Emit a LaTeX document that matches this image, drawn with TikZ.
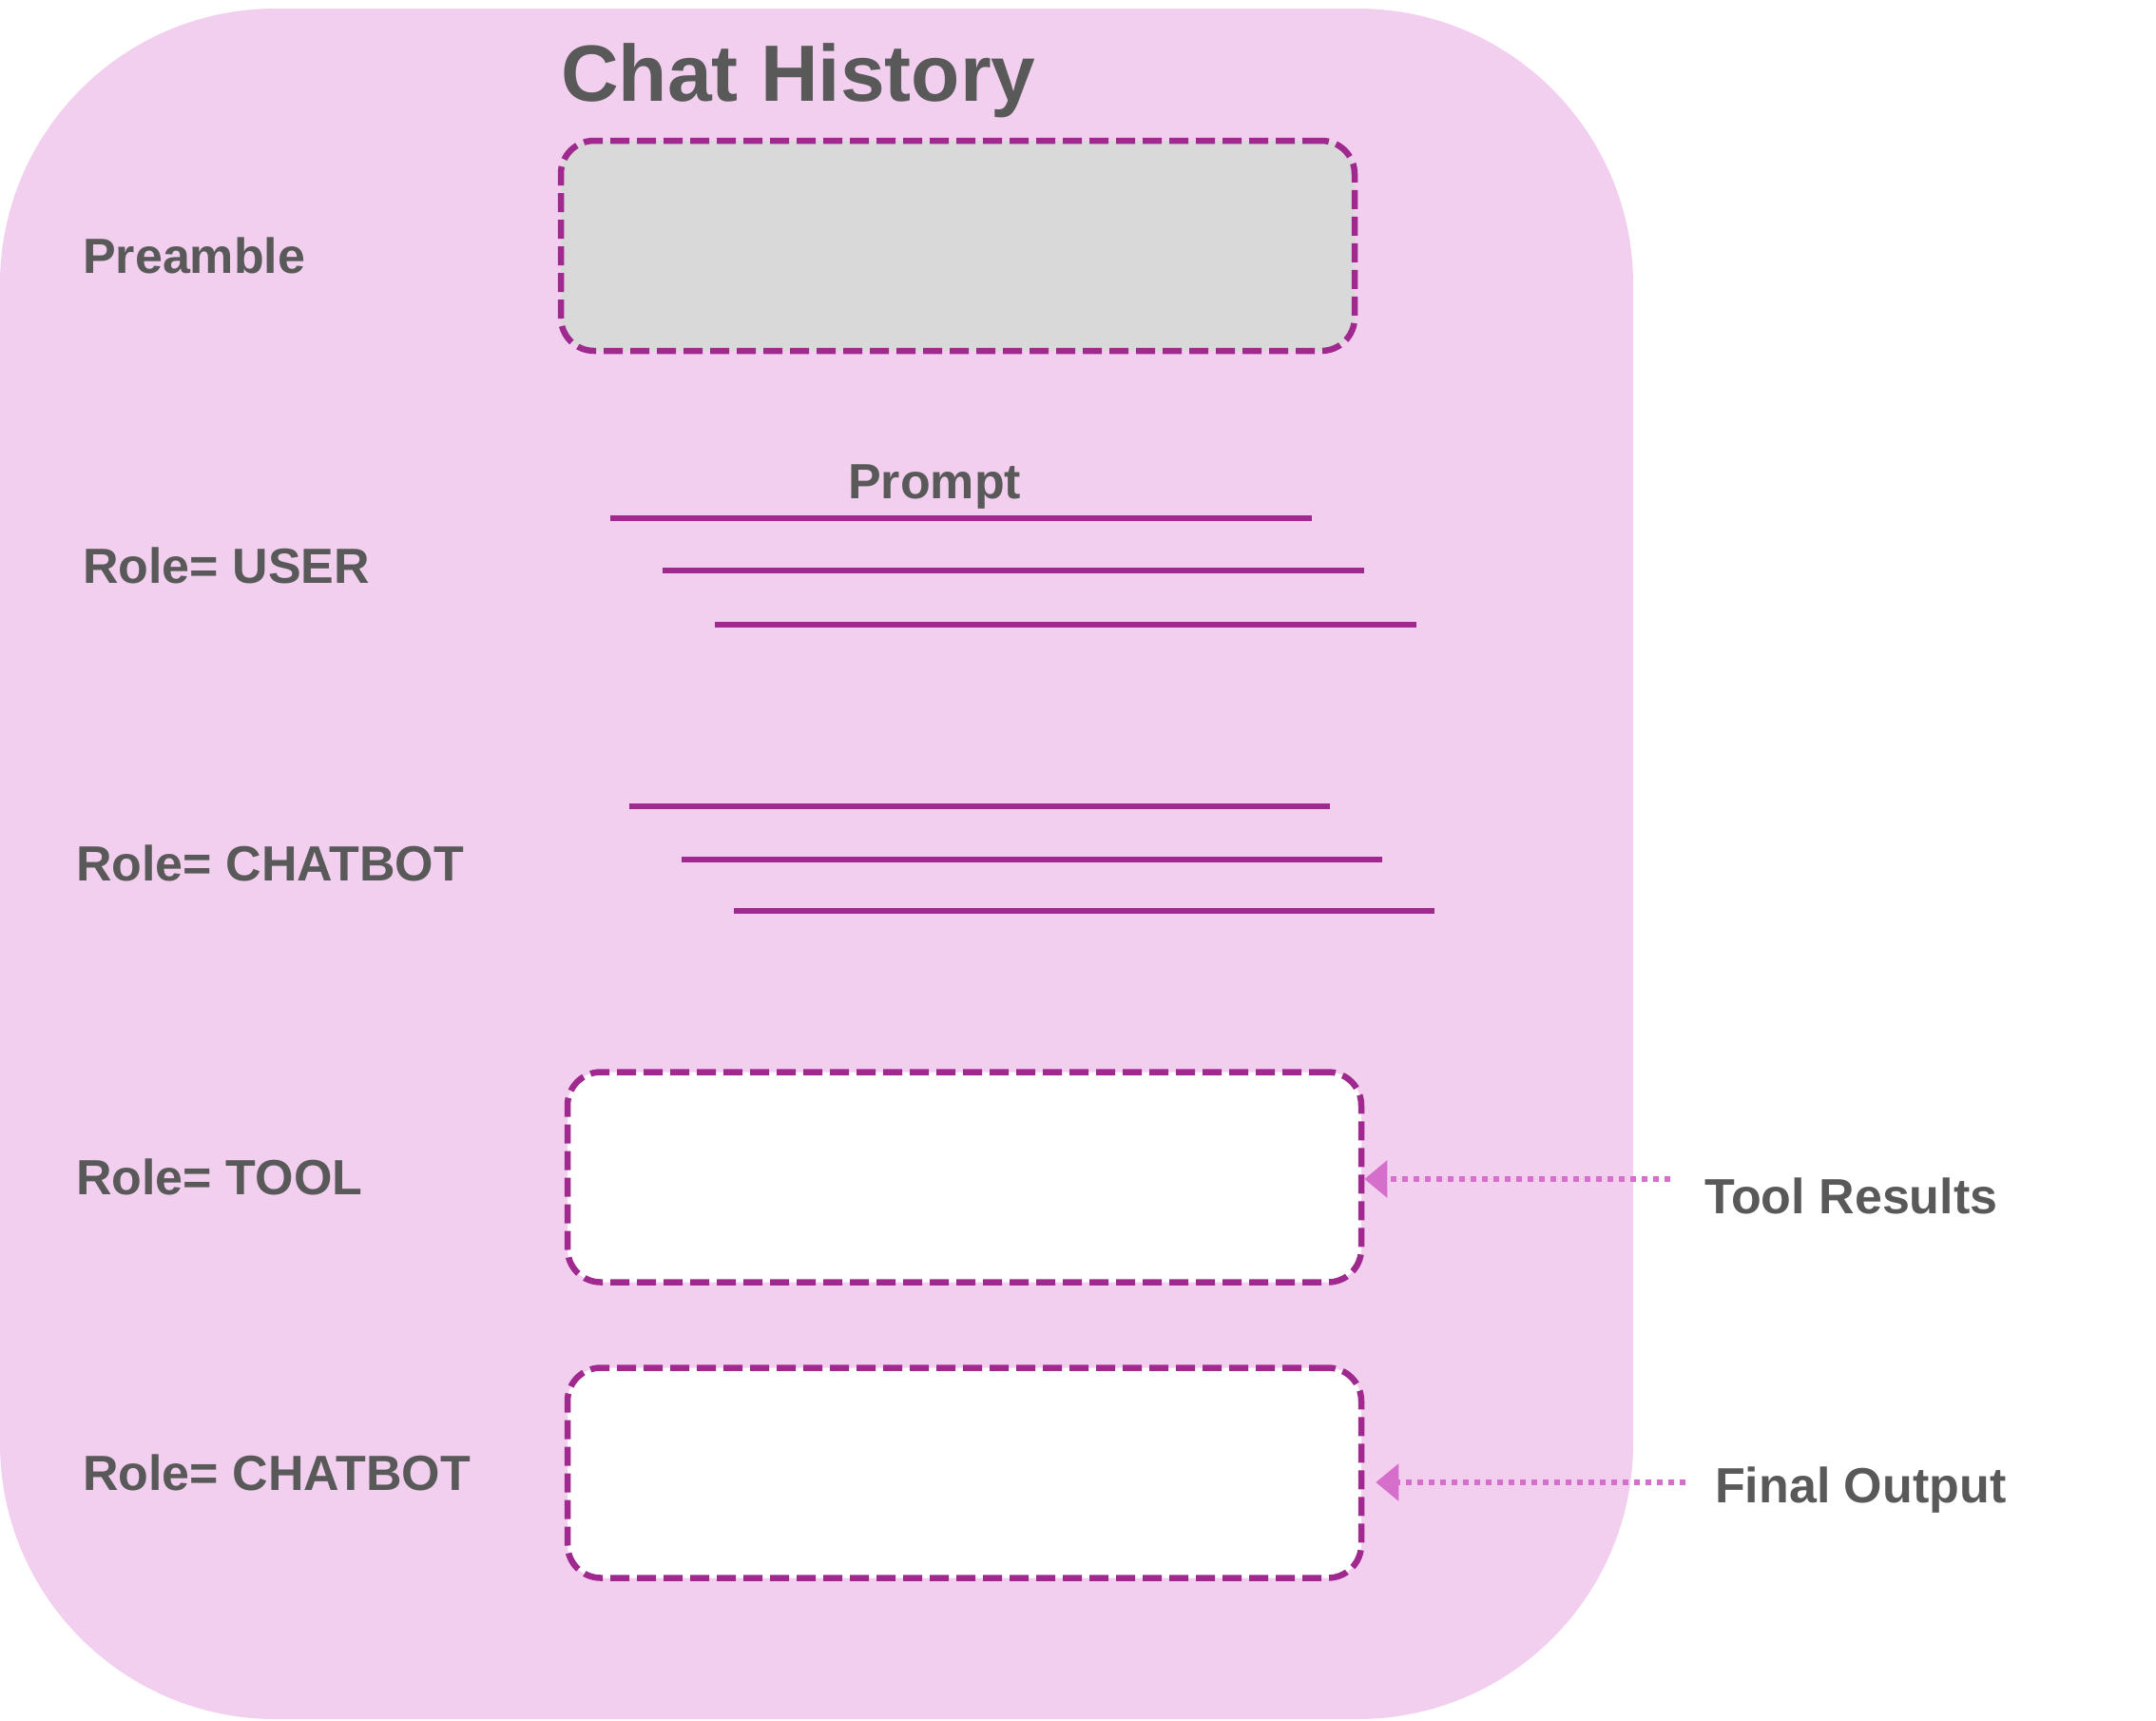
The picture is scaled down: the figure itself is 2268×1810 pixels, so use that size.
\documentclass[tikz,border=0pt]{standalone}
\usepackage{fontspec}
\setmainfont{Liberation Sans}
\usetikzlibrary{arrows.meta}
\definecolor{pinkbg}{HTML}{F2CFEE}
\definecolor{purp}{HTML}{A0298F}
\definecolor{txtgray}{HTML}{595959}
\definecolor{arrpink}{HTML}{D66FCB}
\definecolor{boxgray}{HTML}{D9D9D9}
\tikzset{
  dbox/.style={draw=purp, line width=6.5pt, dash pattern=on 20pt off 8pt, rounded corners=35pt, minimum width=835pt, minimum height=221pt, inner sep=0pt},
  lbl/.style={anchor=base west, text=txtgray, font=\fontsize{52}{60}\selectfont\bfseries, inner sep=0pt},
  pline/.style={draw=purp, line width=6pt},
  resarrow/.style={draw=arrpink, line width=6.5pt, dash pattern=on 6pt off 6pt, -{Triangle[length=24pt,width=38pt]}}
}
\begin{document}
\begin{tikzpicture}[x=1pt,y=-1pt]
\useasboundingbox (0,0) rectangle (2268,1810);
\fill[pinkbg, rounded corners=290pt] (0,9) rectangle (1718,1808);
\node[anchor=base west, text=txtgray, font=\fontsize{84}{90}\selectfont\bfseries, inner sep=0pt] (title) at (590,106) {Chat History};
\node[dbox, fill=boxgray] (pre) at (1007.5,258.5) {};
\node[lbl] (lpre) at (87,287) {Preamble};
\node[lbl] (prompt) at (892,524) {Prompt};
\draw[pline] (642,545) -- (1380,545);
\draw[pline] (697,600) -- (1435,600);
\draw[pline] (752,657) -- (1490,657);
\node[lbl] (luser) at (87,613) {Role= USER};
\draw[pline] (662,848) -- (1399,848);
\draw[pline] (717,904) -- (1454,904);
\draw[pline] (772,958) -- (1509,958);
\node[lbl] (lbot1) at (80,926) {Role= CHATBOT};
\node[dbox, fill=white] (tool) at (1014.5,1238) {};
\node[lbl] (ltool) at (80,1256) {Role= TOOL};
\node[dbox, fill=white] (final) at (1014.5,1549) {};
\node[lbl] (lbot2) at (87,1567) {Role= CHATBOT};
\node[lbl] (tres) at (1793,1276) {Tool Results};
\node[lbl] (fout) at (1804,1580) {Final Output};
\coordinate (trs) at (1757,1240);
\coordinate (fos) at (1773,1559);
\draw[resarrow] (trs) -- (tool.east |- trs);
\draw[resarrow, shorten >=12pt] (fos) -- (final.east |- fos);
\end{tikzpicture}
\end{document}
